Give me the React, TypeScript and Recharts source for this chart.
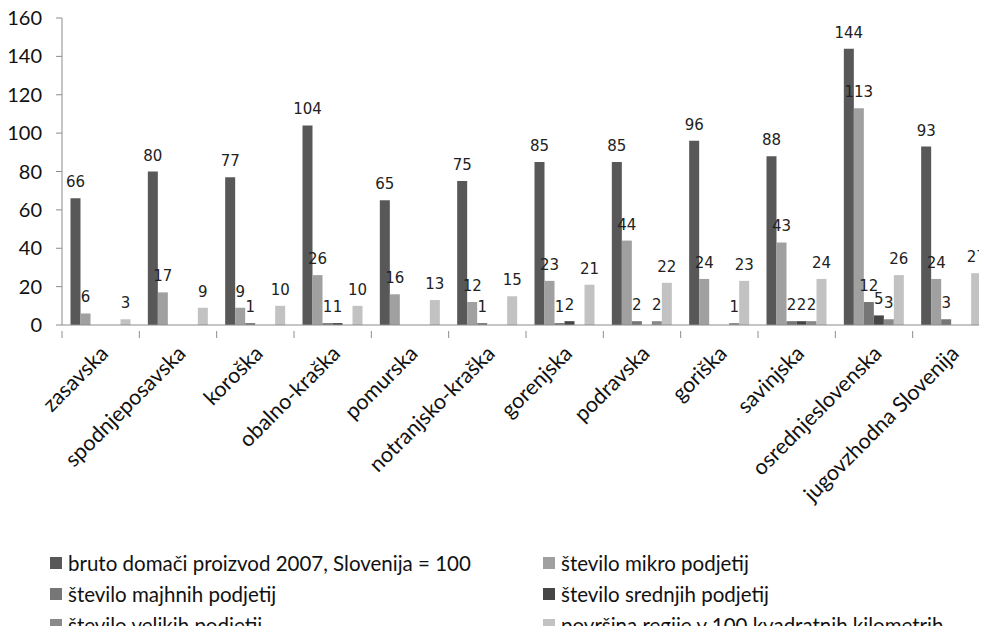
import React from "react";
import { BarChart, Bar, XAxis, YAxis, LabelList } from "recharts";

const categories = [
  "zasavska",
  "spodnjeposavska",
  "koroška",
  "obalno-kraška",
  "pomurska",
  "notranjsko-kraška",
  "gorenjska",
  "podravska",
  "goriška",
  "savinjska",
  "osrednjeslovenska",
  "jugovzhodna Slovenija",
];

const bdp = [66, 80, 77, 104, 65, 75, 85, 85, 96, 88, 144, 93];
const mikro = [6, 17, 9, 26, 16, 12, 23, 44, 24, 43, 113, 24];
const majhna = [null, null, 1, 1, null, 1, 1, 2, null, 2, 12, 3];
const srednja = [null, null, null, 1, null, null, 2, null, null, 2, 5, null];
const velika = [null, null, null, null, null, null, null, 2, 1, 2, 3, null];
const povrsina = [3, 9, 10, 10, 13, 15, 21, 22, 23, 24, 26, 27];

const yTicks = [0, 20, 40, 60, 80, 100, 120, 140, 160];

const series = [
  { key: "bdp", name: "bruto domači proizvod 2007, Slovenija = 100", values: bdp, color: "#585858" },
  { key: "mikro", name: "število mikro podjetij", values: mikro, color: "#a0a0a0" },
  { key: "majhna", name: "število majhnih podjetij", values: majhna, color: "#767676" },
  { key: "srednja", name: "število srednjih podjetij", values: srednja, color: "#464646" },
  { key: "velika", name: "število velikih podjetij", values: velika, color: "#898989" },
  { key: "povrsina", name: "površina regije v 100 kvadratnih kilometrih", values: povrsina, color: "#c2c2c2" },
];

const data = categories.map((name, i) => {
  const row: Record<string, string | number | null> = { name };
  series.forEach((s) => (row[s.key] = s.values[i]));
  return row;
});

const W = 998;
const LEFT = 62;
const RIGHT = 8;
const band = (W - LEFT - RIGHT) / categories.length;

const CatTick = (props: any) => {
  const { x, y, payload } = props;
  const ax = x + 9;
  const ay = y + 16;
  return (
    <g>
      <line x1={x - band / 2} x2={x - band / 2} y1={y - 8} y2={y - 1} stroke="#8c8c8c" />
      <text
        x={ax}
        y={ay}
        textAnchor="end"
        transform={`rotate(-45 ${ax} ${ay})`}
        fontFamily="Lato, 'Open Sans', sans-serif"
        fontSize={21.5}
        fill="#111"
      >
        {payload.value}
      </text>
    </g>
  );
};

const ValueLabel = (props: any) => {
  const { x, y, width, value } = props;
  if (value === null || value === undefined) return null;
  return (
    <text
      x={x + width / 2}
      y={y - 11}
      textAnchor="middle"
      fontFamily="'DejaVu Sans', sans-serif"
      fontSize={15}
      fill="#222"
    >
      {value}
    </text>
  );
};

export default function App() {
  return (
    <div style={{ position: "relative", width: 987, height: 634, overflow: "hidden", margin: -8, background: "#fff" }}>
      <BarChart
        width={W}
        height={560}
        data={data}
        margin={{ top: 18, right: RIGHT, left: 0, bottom: 0 }}
        barCategoryGap="11%"
        barGap={0}
      >
        <XAxis
          dataKey="name"
          interval={0}
          height={235}
          stroke="#8c8c8c"
          tickLine={false}
          tick={<CatTick />}
          tickMargin={8}
        />
        <YAxis
          width={LEFT}
          domain={[0, 160]}
          ticks={yTicks}
          stroke="#8c8c8c"
          tickSize={6}
          tickMargin={14}
          tick={{ fontFamily: "Lato, sans-serif", fontSize: 20, fill: "#111" }}
        />
        {series.map((s) => (
          <Bar key={s.key} dataKey={s.key} name={s.name} fill={s.color} isAnimationActive={false}>
            <LabelList dataKey={s.key} content={<ValueLabel />} />
          </Bar>
        ))}
      </BarChart>
      <div
        style={{
          position: "absolute",
          top: 551,
          left: 50,
          display: "grid",
          gridTemplateColumns: "493px 440px",
          rowGap: 7,
          fontFamily: "Lato, sans-serif",
          fontSize: 20.5,
          color: "#111",
          lineHeight: "24px",
        }}
      >
        {series.map((s) => (
          <div key={s.key} style={{ display: "flex", alignItems: "center", whiteSpace: "nowrap" }}>
            <span style={{ display: "inline-block", width: 12, height: 12, background: s.color, marginRight: 6 }} />
            {s.name}
          </div>
        ))}
      </div>
    </div>
  );
}
